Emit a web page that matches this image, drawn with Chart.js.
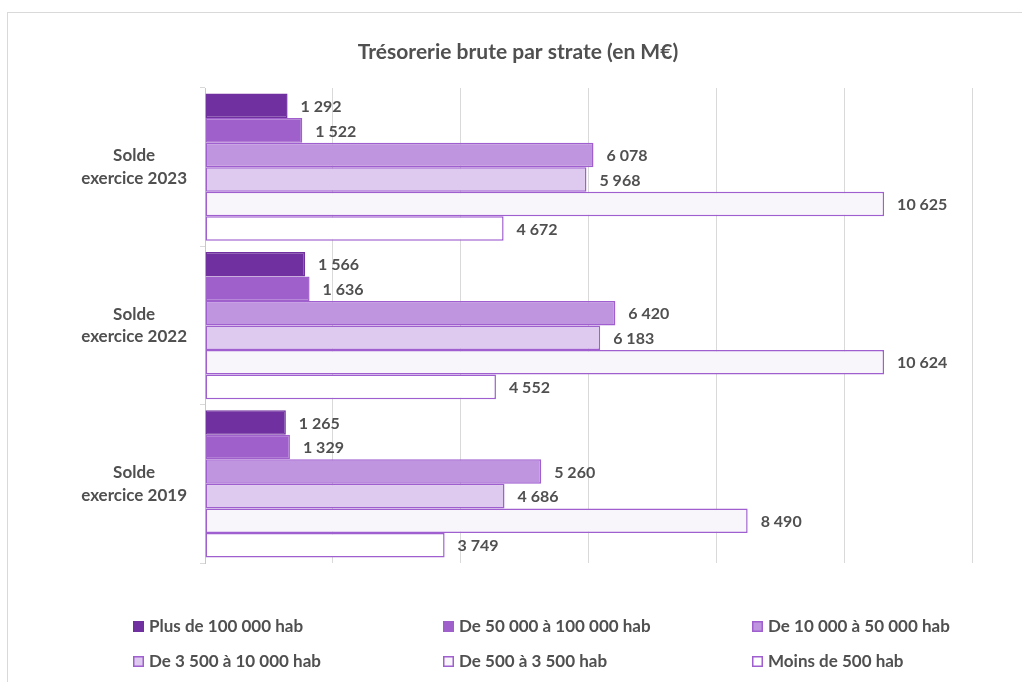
<!DOCTYPE html>
<html lang="fr">
<head>
<meta charset="utf-8">
<title>Trésorerie brute par strate</title>
<script src="https://cdn.jsdelivr.net/npm/chart.js@4.4.1/dist/chart.umd.min.js"></script>
<style>
  html, body { margin: 0; padding: 0; background: #fff; overflow: hidden; }
  #frame {
    position: absolute; left: 7px; top: 12px; width: 1100px; height: 800px;
    border-left: 1px solid #d9d9d9; border-top: 1px solid #d9d9d9;
  }
  #wrap { position: absolute; left: 0; top: 0; width: 1022px; height: 682px; }
</style>
</head>
<body>
<div id="frame"></div>
<div id="wrap"><canvas id="tresoChart"></canvas></div>
<script>
/* ── Data ───────────────────────────────────────────────────── */

const CHART_TITLE = "Trésorerie brute par strate (en M€)";
const categories  = [["Solde", "exercice 2023"], ["Solde", "exercice 2022"], ["Solde", "exercice 2019"]];

const strates = [
  "Plus de 100 000 hab",
  "De 50 000 à 100 000 hab",
  "De 10 000 à 50 000 hab",
  "De 3 500 à 10 000 hab",
  "De 500 à 3 500 hab",
  "Moins de 500 hab",
];

// one array per strate: [2023, 2022, 2019]
const plus100k    = [1292, 1566, 1265];
const de50a100k   = [1522, 1636, 1329];
const de10a50k    = [6078, 6420, 5260];
const de3500a10k  = [5968, 6183, 4686];
const de500a3500  = [10625, 10624, 8490];
const moins500    = [4672, 4552, 3749];

const xTicks = [0, 2000, 4000, 6000, 8000, 10000, 12000];

/* ── Styles ─────────────────────────────────────────────────── */

const FONT   = "Lato";
const TXT    = "#505050";
const GRID   = "#d9d9d9";
const fills  = ["#7030a0", "#a060cc", "#bf95df", "#dfcaef", "#f8f5fb", "#ffffff"];
const edges  = ["#7030a0", "#a060cc", "#9f5fcf", "#9f5fcf", "#9f5fcf", "#9f5fcf"];

const series = [plus100k, de50a100k, de10a50k, de3500a10k, de500a3500, moins500];

/* ── Helpers ────────────────────────────────────────────────── */

function fmt(v) {
  return String(v).replace(/\B(?=(\d{3})+(?!\d))/g, " ");
}

// values at bar end
const valueLabels = {
  id: "valueLabels",
  afterDatasetsDraw(chart) {
    const ctx = chart.ctx;
    ctx.save();
    ctx.font = `bold 16px ${FONT}`;
    ctx.fillStyle = TXT;
    ctx.textAlign = "left";
    ctx.textBaseline = "middle";
    chart.data.datasets.forEach((ds, i) => {
      chart.getDatasetMeta(i).data.forEach((bar, j) => {
        ctx.fillText(fmt(ds.data[j]), bar.x + 13, bar.y + 1);
      });
    });
    ctx.restore();
  },
};

// title + legend in a 3-column grid, like the Excel original
const titleAndLegend = {
  id: "titleAndLegend",
  afterDraw(chart) {
    const ctx = chart.ctx;
    ctx.save();
    ctx.fillStyle = TXT;
    ctx.font = `bold 21px ${FONT}`;
    ctx.textAlign = "center";
    ctx.textBaseline = "middle";
    ctx.fillText(CHART_TITLE, 518, 52);

    const colX = [133, 443, 752];
    const rowY = [626, 661];
    ctx.font = `bold 17px ${FONT}`;
    ctx.textAlign = "left";
    chart.data.datasets.forEach((ds, i) => {
      const x = colX[i % 3];
      const y = rowY[Math.floor(i / 3)];
      ctx.fillStyle = ds.backgroundColor;
      ctx.fillRect(x, y - 5, 11, 11);
      ctx.strokeStyle = ds.borderColor;
      ctx.lineWidth = 1.5;
      ctx.strokeRect(x + 0.75, y - 4.25, 9.5, 9.5);
      ctx.fillStyle = TXT;
      ctx.fillText(ds.label, x + 16, y + 1);
    });
    ctx.restore();
  },
};

/* ── Chart ──────────────────────────────────────────────────── */

const datasets = strates.map((name, i) => ({
  label: name,
  data: series[i],
  backgroundColor: fills[i],
  borderColor: edges[i],
  borderWidth: 1.5,
  borderSkipped: false,
  barPercentage: 1.0,
  categoryPercentage: 0.93,
}));

new Chart(document.getElementById("tresoChart"), {
  type: "bar",
  data: { labels: categories, datasets },
  options: {
    indexAxis: "y",
    responsive: true,
    maintainAspectRatio: false,
    animation: false,
    layout: { padding: { top: 88, right: 50, bottom: 119, left: 0 } },
    plugins: {
      legend: { display: false },
      title: { display: false },
      tooltip: { enabled: false },
    },
    scales: {
      x: {
        min: xTicks[0],
        max: xTicks[xTicks.length - 1],
        afterBuildTicks: (s) => { s.ticks = xTicks.map(v => ({ value: v })); },
        ticks: { display: false },
        grid: { color: GRID, lineWidth: 1, drawTicks: false },
        border: { display: false },
      },
      y: {
        afterFit: (s) => { s.width = 205; },
        ticks: {
          crossAlign: "center",
          padding: 13,
          color: TXT,
          font: { family: FONT, size: 17, weight: "bold", lineHeight: 1.35 },
        },
        grid: { color: GRID, drawOnChartArea: false, tickLength: 5 },
        border: { color: "#c8c8c8", width: 1 },
      },
    },
  },
  plugins: [valueLabels, titleAndLegend],
});
</script>
</body>
</html>
